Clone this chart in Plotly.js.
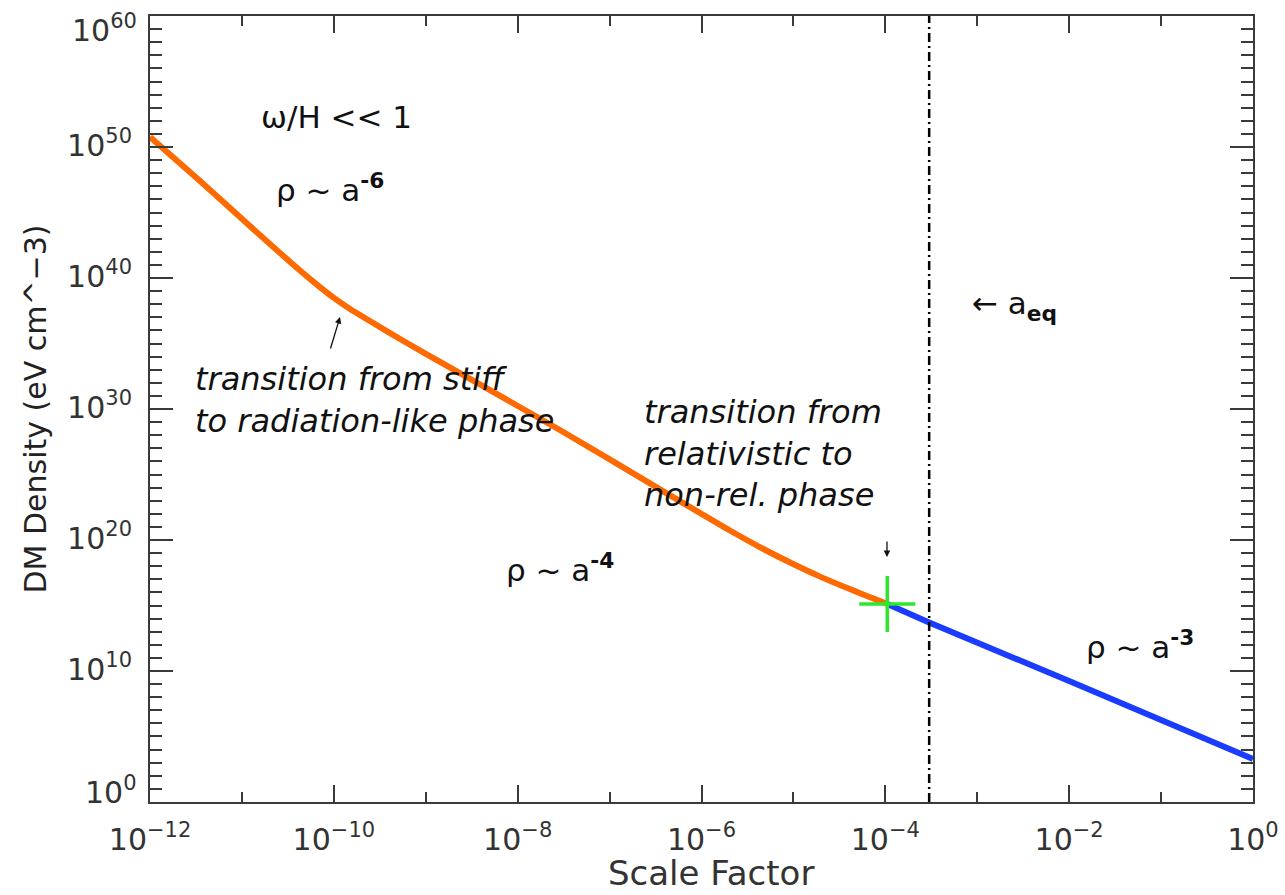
<!DOCTYPE html>
<html>
<head>
<meta charset="utf-8">
<script src="https://cdn.plot.ly/plotly-3.0.1.min.js"></script>
<style>html,body{margin:0;padding:0;background:#fff;}#chart{width:1285px;height:895px;}</style>
</head>
<body>
<div id="chart"></div>
<script>
// Orange (stiff -> radiation-like -> relativistic) branch: scale factor vs DM density
const aOrange   = [1e-12, 3.50e-12, 1.22e-11, 4.28e-11, 7.06e-11, 1.0e-10, 1.5e-10, 2.47e-10, 5.25e-10, 1.43e-9, 2.88e-8, 4.9e-7, 2.04e-6, 4.3e-6, 9.2e-6, 1.95e-5, 4.1e-5, 1.05e-4];
const rhoOrange = [5.8e50, 2.5e47, 9.3e43, 3.7e40, 2.0e39, 3.0e38, 4.3e37, 5.2e36, 2.2e35, 3.9e33, 2.5e28, 1.9e23, 5.3e20, 2.9e19, 1.9e18, 1.6e17, 1.8e16, 1.3e15];
// Blue (non-relativistic) branch
const aBlue   = [1.05e-4, 3.0e-4, 1e-2, 1];
const rhoBlue = [1.3e15, 5.0e13, 1.7e9, 1.9e3];
// Transition marker
const aCross   = [1.05e-4];
const rhoCross = [1.3e15];
// Matter-radiation equality
const aEq = 3.0e-4;

// Tick values / labels
const xMajorVals = [1e-12, 1e-10, 1e-8, 1e-6, 1e-4, 1e-2, 1];
const xMajorText = ['10<sup>\u221212</sup>', '10<sup>\u221210</sup>', '10<sup>\u22128</sup>', '10<sup>\u22126</sup>', '10<sup>\u22124</sup>', '10<sup>\u22122</sup>', '10<sup>0</sup>'];
const xMinorExp = [-11, -9, -7, -5, -3, -1];
const yMajorExp = [0, 10, 20, 30, 40, 50, 60];
const yEndExp = [0, 60];   // end labels, nudged inward as in the original
const yMinorExp = [];
for (let e = 1; e < 60; e++) { if (e % 10 !== 0) yMinorExp.push(e); }

const yMajorVals = yMajorExp.map(e => Math.pow(10, e));
const yMajorText = yMajorExp.map(e => yEndExp.includes(e) ? '' : '10<sup>' + e + '</sup>');
const xMinorVals = xMinorExp.map(e => Math.pow(10, e));
const yMinorVals = yMinorExp.map(e => Math.pow(10, e));

const xTitle = 'Scale Factor';
const yTitle = 'DM Density (eV cm^\u22123)';

const axisColor = '#3a3a3a';
const sans = 'DejaVu Sans, Verdana, sans-serif';
const tickFont = {family: sans, size: 30, color: '#333'};
const annFont = {family: sans, size: 31, color: '#111'};
const itFont = {family: sans, size: 32, color: '#111'};

const traces = [
  {x: aOrange, y: rhoOrange, type: 'scatter', mode: 'lines',
   line: {color: '#ff6a00', width: 6, shape: 'spline', smoothing: 0.8}, hoverinfo: 'skip'},
  {x: aBlue, y: rhoBlue, type: 'scatter', mode: 'lines',
   line: {color: '#1a3cff', width: 6}, hoverinfo: 'skip'},
  {x: [aEq, aEq], y: [1, 1e60], type: 'scatter', mode: 'lines',
   line: {color: '#000', width: 2.5, dash: '9px,4px,2px,4px'}, hoverinfo: 'skip'},
  {x: aCross, y: rhoCross, type: 'scatter', mode: 'markers',
   marker: {symbol: 'cross-thin', size: 40, line: {color: '#2ee62e', width: 3.5}}, hoverinfo: 'skip'}
];

const endLabels = yEndExp.map(e => ({
  x: 0, xref: 'paper', y: e, yref: 'y', xanchor: 'right', yanchor: 'middle',
  xshift: -11, yshift: e === 60 ? -12 : 11,
  text: '10<sup>' + e + '</sup>', showarrow: false, font: tickFont
}));

const layout = {
  width: 1285, height: 895,
  margin: {l: 150, r: 32, t: 16, b: 93},
  paper_bgcolor: '#fff', plot_bgcolor: '#fff',
  showlegend: false,
  xaxis: {
    type: 'log', range: [-12.0005, 0.0005], showgrid: false, zeroline: false,
    showline: true, linecolor: axisColor, linewidth: 2, mirror: 'ticks',
    ticks: 'inside', ticklen: 17, tickwidth: 2, tickcolor: axisColor,
    tickmode: 'array', tickvals: xMajorVals, ticktext: xMajorText,
    tickfont: tickFont, ticklabelstandoff: 10, ticklabeloverflow: 'allow',
    minor: {tickmode: 'array', tickvals: xMinorVals, ticks: 'inside', ticklen: 10, tickwidth: 2, tickcolor: axisColor, showgrid: false},
    automargin: false
  },
  yaxis: {
    type: 'log', range: [-0.0005, 60.0005], showgrid: false, zeroline: false,
    showline: true, linecolor: axisColor, linewidth: 2, mirror: 'ticks',
    ticks: 'inside', ticklen: 23, tickwidth: 2, tickcolor: axisColor,
    tickmode: 'array', tickvals: yMajorVals, ticktext: yMajorText,
    tickfont: tickFont, ticklabelstandoff: 10, ticklabelshift: -2, ticklabeloverflow: 'allow',
    minor: {tickmode: 'array', tickvals: yMinorVals, ticks: 'inside', ticklen: 12, tickwidth: 2, tickcolor: axisColor, showgrid: false},
    title: {text: yTitle, font: {family: sans, size: 30, color: '#222'}, standoff: 12},
    automargin: false
  },
  annotations: endLabels.concat([
    {x: 0.5, xref: 'paper', y: 0, yref: 'paper', xanchor: 'center', yanchor: 'top',
     xshift: 9, yshift: -49, text: xTitle, showarrow: false,
     font: {family: sans, size: 34, color: '#333'}},
    {x: -9.976, y: 52.3, xref: 'x', yref: 'y', text: '\u03c9/H << 1', showarrow: false, font: annFont},
    {x: -10.04, y: 46.9, xref: 'x', yref: 'y', text: '\u03c1 ~ a<sup><b>-6</b></sup>', showarrow: false, font: annFont},
    {x: -11.53, y: 30.7, xref: 'x', yref: 'y', xanchor: 'left', align: 'left',
     text: '<i>transition from stiff<br>to radiation-like phase</i>', showarrow: false, font: itFont},
    {x: -9.933, y: 37.02, xref: 'x', yref: 'y', text: '', showarrow: true, ax: -10, ay: 33,
     arrowhead: 2, arrowsize: 1, arrowwidth: 1.3, arrowcolor: '#111'},
    {x: -7.54, y: 17.9, xref: 'x', yref: 'y', text: '\u03c1 ~ a<sup><b>-4</b></sup>', showarrow: false, font: annFont},
    {x: -6.65, y: 26.6, xref: 'x', yref: 'y', xanchor: 'left', align: 'left',
     text: '<i>transition from<br>relativistic to<br>non-rel. phase</i>', showarrow: false, font: itFont},
    {x: -3.982, y: 18.7, xref: 'x', yref: 'y', text: '', showarrow: true, ax: 0, ay: -17,
     arrowhead: 2, arrowsize: 1, arrowwidth: 1.3, arrowcolor: '#111'},
    {x: -3.08, y: 37.9, xref: 'x', yref: 'y', xanchor: 'left',
     text: '\u2190 a<sub><b>eq</b></sub>', showarrow: false, font: annFont},
    {x: -1.23, y: 12.0, xref: 'x', yref: 'y', text: '\u03c1 ~ a<sup><b>-3</b></sup>', showarrow: false, font: annFont}
  ])
};

Plotly.newPlot('chart', traces, layout, {displayModeBar: false, staticPlot: true});
</script>
</body>
</html>
